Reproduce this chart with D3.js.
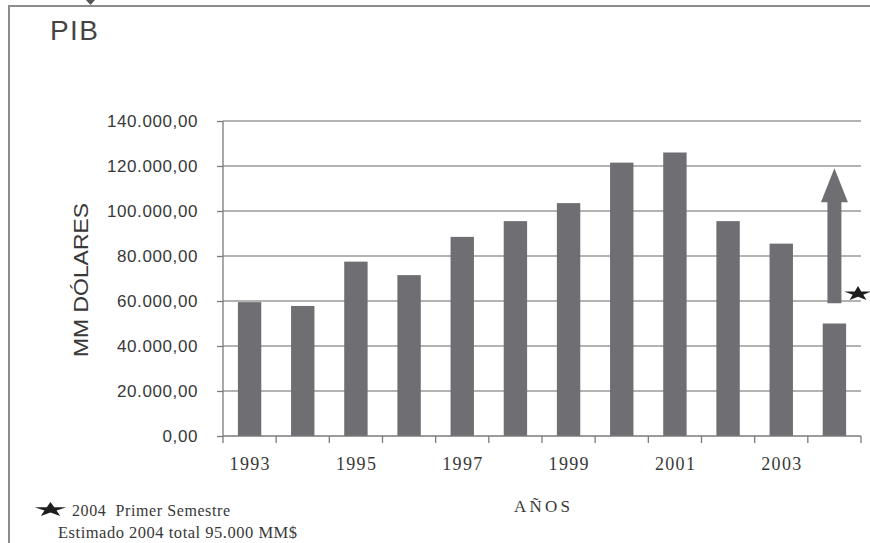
<!DOCTYPE html>
<html>
<head>
<meta charset="utf-8">
<script src="https://cdn.jsdelivr.net/npm/d3@7"></script>
<style>
  html, body { margin: 0; padding: 0; background: #fff; }
  svg { display: block; }
</style>
</head>
<body>
<svg id="chart" width="870" height="543"></svg>
<script>
// PIB anual en millones de dólares
const years = ["1993","1994","1995","1996","1997","1998","1999","2000","2001","2002","2003","2004"];
const pib = [59500, 57800, 77500, 71500, 88500, 95500, 103500, 121500, 126000, 95500, 85500, 50000];
const yTicks = [0, 20000, 40000, 60000, 80000, 100000, 120000, 140000];
const xLabels = ["1993","1995","1997","1999","2001","2003"];
// estimación 2004: flecha desde el semestre hasta el total estimado, y estrella
const arrowFrom = 59000;
const arrowTo = 119000;
const starValue = 63500;

const svg = d3.select("#chart");
const barColor = "#6f6f73";
const gridColor = "#9a9a9a";
const textColor = "#383838";
const serif = "'Liberation Serif', 'Times New Roman', serif";
const sans = "'Liberation Sans', Arial, sans-serif";

const plotLeft = 223, plotRight = 861, plotTop = 121, plotBottom = 436;

const x = d3.scaleBand().domain(years).range([plotLeft, plotRight])
  .paddingInner(0.56).paddingOuter(0.28);
const y = d3.scaleLinear().domain([0, 140000]).range([plotBottom, plotTop]);

const esLocale = d3.formatLocale({ decimal: ",", thousands: ".", grouping: [3], currency: ["", ""] });
const fmt = esLocale.format(",.2f");

// marco exterior
svg.append("path")
  .attr("d", "M9,543 L9,6 L870,6")
  .attr("fill", "none").attr("stroke", "#8c8c8c").attr("stroke-width", 2);
svg.append("path")
  .attr("d", "M86,0 L95,0 L90.5,5 Z")
  .attr("fill", "#555");

// título
svg.append("text")
  .attr("x", 50).attr("y", 40)
  .attr("font-family", sans)
  .attr("font-size", 28).attr("fill", "#444")
  .attr("textLength", 48).attr("lengthAdjust", "spacing")
  .text("PIB");

// líneas de cuadrícula
svg.append("g").selectAll("line")
  .data(yTicks.filter(d => d > 0))
  .join("line")
  .attr("x1", plotLeft).attr("x2", plotRight)
  .attr("y1", d => y(d)).attr("y2", d => y(d))
  .attr("stroke", gridColor).attr("stroke-width", 1.5);

// barras
svg.append("g").selectAll("rect")
  .data(years.map((yr, i) => ({ yr, v: pib[i] })))
  .join("rect")
  .attr("x", d => x(d.yr))
  .attr("width", x.bandwidth())
  .attr("y", d => y(d.v))
  .attr("height", d => y(0) - y(d.v))
  .attr("fill", barColor);

// eje Y
const yAxis = svg.append("g")
  .attr("transform", `translate(${plotLeft},0)`)
  .call(d3.axisLeft(y).tickValues(yTicks).tickFormat(fmt).tickSize(6).tickPadding(25));
yAxis.attr("font-family", null).attr("font-size", null);
yAxis.select(".domain").attr("stroke", "#7a7a7a").attr("stroke-width", 1.3)
  .attr("d", `M0,${plotTop}V${plotBottom + 7}`);
yAxis.selectAll(".tick line").attr("stroke", "#7a7a7a").attr("stroke-width", 1.3);
yAxis.selectAll(".tick text")
  .attr("x", -25)
  .attr("font-family", sans)
  .attr("font-size", 17).attr("fill", textColor)
  .attr("letter-spacing", 0.6);

// eje X: marcas en los límites de cada año
const xb = d3.scaleLinear().domain([0, years.length]).range([plotLeft, plotRight]);
svg.append("line")
  .attr("x1", plotLeft).attr("x2", plotRight)
  .attr("y1", plotBottom).attr("y2", plotBottom)
  .attr("stroke", "#7a7a7a").attr("stroke-width", 1.3);
svg.append("g").selectAll("line")
  .data(d3.range(1, years.length + 1))
  .join("line")
  .attr("x1", d => xb(d)).attr("x2", d => xb(d))
  .attr("y1", plotBottom).attr("y2", plotBottom + 7)
  .attr("stroke", "#7a7a7a").attr("stroke-width", 1.3);

const xAxis = svg.append("g")
  .attr("transform", `translate(0,${plotBottom})`)
  .call(d3.axisBottom(x).tickValues(xLabels).tickSize(0).tickPadding(21));
xAxis.attr("font-family", null).attr("font-size", null);
xAxis.select(".domain").remove();
xAxis.selectAll(".tick text")
  .attr("font-family", serif)
  .attr("font-size", 18).attr("fill", textColor)
  .attr("textLength", 40).attr("lengthAdjust", "spacing");

// títulos de ejes
svg.append("text")
  .attr("x", (plotLeft + plotRight) / 2).attr("y", 512)
  .attr("text-anchor", "middle")
  .attr("font-family", serif)
  .attr("font-size", 17).attr("fill", textColor)
  .attr("textLength", 56).attr("lengthAdjust", "spacing")
  .text("AÑOS");

svg.append("text")
  .attr("transform", "translate(88,280) rotate(-90)")
  .attr("text-anchor", "middle")
  .attr("font-family", sans)
  .attr("font-size", 19.5).attr("fill", textColor)
  .attr("textLength", 154).attr("lengthAdjust", "spacingAndGlyphs")
  .text("MM DÓLARES");

// flecha de estimación 2004
const cx = x("2004") + x.bandwidth() / 2;
const shaftHalf = 7, headHalf = 13.5, headLen = 34;
const yTip = y(arrowTo), yBase = y(arrowFrom);
svg.append("path")
  .attr("d", [
    "M", cx - shaftHalf, yBase,
    "L", cx - shaftHalf, yTip + headLen,
    "L", cx - headHalf, yTip + headLen,
    "L", cx, yTip,
    "L", cx + headHalf, yTip + headLen,
    "L", cx + shaftHalf, yTip + headLen,
    "L", cx + shaftHalf, yBase, "Z"
  ].join(" "))
  .attr("fill", barColor);

// estrellas
const star = d3.symbol().type(d3.symbolStar).size(120);
svg.append("path")
  .attr("d", star())
  .attr("transform", `translate(858,${y(starValue) + 0.7}) scale(1.4,0.75)`)
  .attr("fill", "#1e1e1e");
svg.append("path")
  .attr("d", star())
  .attr("transform", "translate(50.5,509.7) scale(1.6,0.74)")
  .attr("fill", "#1e1e1e");

// nota al pie
svg.append("text")
  .attr("x", 72).attr("y", 516)
  .attr("font-family", serif)
  .attr("font-size", 16).attr("fill", textColor)
  .attr("textLength", 158).attr("lengthAdjust", "spacing")
  .attr("xml:space", "preserve")
  .text("2004  Primer Semestre");
svg.append("text")
  .attr("x", 58).attr("y", 538)
  .attr("font-family", serif)
  .attr("font-size", 16.5).attr("fill", textColor)
  .attr("textLength", 239).attr("lengthAdjust", "spacing")
  .text("Estimado 2004 total 95.000 MM$");
</script>
</body>
</html>
